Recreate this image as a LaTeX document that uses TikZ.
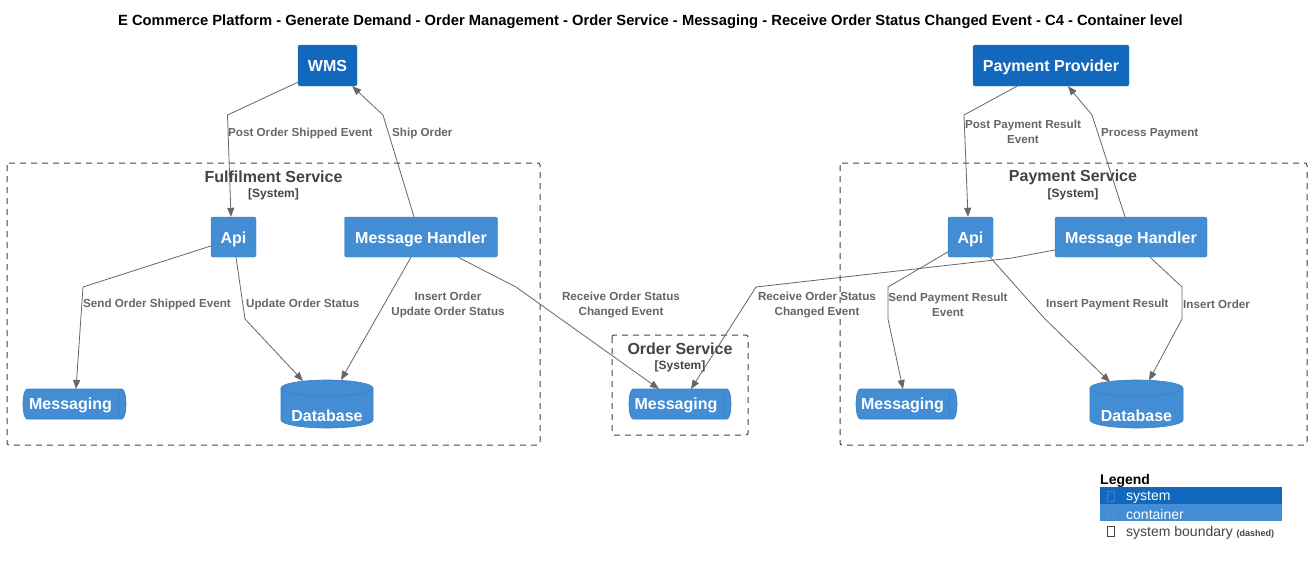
\documentclass[tikz,border=0pt]{standalone}
\usepackage{fontspec}
\setmainfont{Liberation Sans}
\usetikzlibrary{arrows.meta,calc}
\definecolor{sysblue}{HTML}{1168BD}
\definecolor{conblue}{HTML}{438DD5}
\definecolor{conborder}{HTML}{3C7FC0}
\definecolor{relgray}{HTML}{666666}
\definecolor{bndgray}{HTML}{444444}
\tikzset{
  sysbox/.style={fill=sysblue, draw=conborder, rounded corners=2pt, text=white,
    font=\fontsize{16}{19}\selectfont\bfseries, inner sep=0pt, text height=14pt, text depth=2pt},
  conbox/.style={fill=conblue, draw=conborder, rounded corners=2pt, text=white,
    font=\fontsize{16}{19}\selectfont\bfseries, inner sep=0pt, text height=14pt, text depth=1.5pt},
  holder/.style={inner sep=0pt, outer sep=0pt},
  ctext/.style={text=white, font=\fontsize{16}{19}\selectfont\bfseries, inner sep=0pt},
  bnd/.style={draw=bndgray, line width=1pt, dash pattern=on 6pt off 5pt, rounded corners=2pt},
  bndtitle/.style={text=bndgray, font=\fontsize{16}{19}\selectfont\bfseries, inner sep=0pt},
  bndsub/.style={text=bndgray, font=\fontsize{12}{14}\selectfont\bfseries, inner sep=0pt},
  rel/.style={draw=relgray, line width=0.8pt, -{Triangle[length=9pt,width=7pt]}},
  rellabel/.style={text=relgray, font=\fontsize{11.65}{15}\selectfont\bfseries, inner sep=0pt, align=center},
  legtext/.style={font=\fontsize{14}{16}\selectfont, inner sep=0pt, anchor=west},
}
\newcommand{\drawdb}[2]{%
  \draw[conborder, fill=conblue, line width=0.6pt] ($(#1.north west)+(0,8)$) arc[start angle=180, end angle=0, x radius=#2pt, y radius=8pt]
    -- ($(#1.south east)+(0,-8)$) arc[start angle=0, end angle=-180, x radius=#2pt, y radius=8pt] -- cycle;
  \draw[conborder, line width=0.6pt] ($(#1.north west)+(0,8)$) arc[start angle=180, end angle=360, x radius=#2pt, y radius=8pt];
}
\newcommand{\drawqueue}[2]{%
  \draw[conborder, fill=conblue, line width=0.6pt] ($(#1.north west)+(4,0)$) -- ($(#1.north east)+(-4,0)$)
    arc[start angle=90, end angle=-90, x radius=4pt, y radius=#2pt]
    -- ($(#1.south west)+(4,0)$) arc[start angle=270, end angle=90, x radius=4pt, y radius=#2pt] -- cycle;
  \draw[conborder, line width=0.6pt] ($(#1.north east)+(-4,0)$) arc[start angle=90, end angle=270, x radius=4pt, y radius=#2pt];
}
\begin{document}
\begin{tikzpicture}[x=1pt,y=-1pt]
\useasboundingbox[fill=white] (0,0) rectangle (1312,565);

% title
\node[font=\fontsize{14.75}{17}\selectfont\bfseries, inner sep=0pt] (title) at (650.5,21.5) {E Commerce Platform - Generate Demand - Order Management - Order Service - Messaging - Receive Order Status Changed Event - C4 - Container level};

% boundaries
\draw[bnd] (7,163) rectangle (540,445);
\node[bndtitle] (fbt) at (273.5,177) {Fulfilment Service};
\node[bndsub] (fbs) at (273.5,194) {[System]};
\draw[bnd] (612,335) rectangle (748,435);
\node[bndtitle] (obt) at (680,349) {Order Service};
\node[bndsub] (obs) at (680,366) {[System]};
\draw[bnd] (840,163) rectangle (1307,445);
\node[bndtitle] (pbt) at (1073,177) {Payment Service};
\node[bndsub] (pbs) at (1073,194) {[System]};

% systems
\node[sysbox, minimum width=59pt, minimum height=41pt] (wms) at (327.5,65.5) {WMS};
\node[sysbox, minimum width=156pt, minimum height=41pt] (pp) at (1051,65.5) {Payment Provider};

% containers
\node[conbox, minimum width=45pt, minimum height=40pt] (fapi) at (233.5,237) {Api};
\node[conbox, minimum width=153pt, minimum height=40pt] (fmh) at (421,237) {Message Handler};
\node[conbox, minimum width=45pt, minimum height=40pt] (papi) at (970.5,237) {Api};
\node[conbox, minimum width=152pt, minimum height=40pt] (pmh) at (1131,237) {Message Handler};

\node[holder, minimum width=103pt, minimum height=30pt] (fmsg) at (74.5,404) {};
\node[holder, minimum width=102pt, minimum height=30pt] (omsg) at (680,404) {};
\node[holder, minimum width=101pt, minimum height=30pt] (pmsg) at (906.5,404) {};
\node[holder, minimum width=92pt, minimum height=48pt] (fdb) at (327,404) {};
\node[holder, minimum width=93pt, minimum height=48pt] (pdb) at (1136.5,404) {};

\drawqueue{fmsg}{15}
\drawqueue{omsg}{15}
\drawqueue{pmsg}{15}
\drawdb{fdb}{46}
\drawdb{pdb}{46.5}
\node[ctext] at ($(fmsg)+(-4,1.5)$) {Messaging};
\node[ctext] at ($(omsg)+(-4,1.5)$) {Messaging};
\node[ctext] at ($(pmsg)+(-4,1.5)$) {Messaging};
\node[ctext] at ($(fdb)+(0,11.5)$) {Database};
\node[ctext] at ($(pdb)+(0,11.5)$) {Database};

% relations - fulfilment
\draw[rel] ($(wms.south west)+(0,-4)$) -- (227.5,115) -- ($(fapi.north)+(-2.5,0)$);
\node[rellabel, anchor=west] at (228,133.5) {Post Order Shipped Event};
\draw[rel] ($(fmh.north)+(-7,0)$) -- (383,115) -- ($(wms.south east)+(-5,0)$);
\node[rellabel, anchor=west] at (392,133.5) {Ship Order};
\draw[rel] ($(fapi.west)+(0,9)$) -- (83,287) -- ($(fmsg.north)+(1.5,0)$);
\node[rellabel, anchor=west] at (83,304.5) {Send Order Shipped Event};
\draw[rel] ($(fapi.south)+(2.5,0)$) -- (245,319) -- ($(fdb.center)+(-24,-23)$);
\node[rellabel, anchor=west] at (246,304.5) {Update Order Status};
\draw[rel] ($(fmh.south)+(-10,0)$) -- ($(fdb.center)+(14,-24)$);
\node[rellabel] at (448,305) {Insert Order\\Update Order Status};
\draw[rel] ($(fmh.south)+(37,0)$) -- (516,287) -- ($(omsg.north)+(-21,0)$);
\node[rellabel] at (621,305) {Receive Order Status\\Changed Event};

% relations - payment
\draw[rel] ($(pmh.west)+(0,13)$) -- (1012,258) -- (756,287) -- ($(omsg.north)+(11,0)$);
\node[rellabel] at (817,305) {Receive Order Status\\Changed Event};
\draw[rel] ($(pp.south)+(-34,0)$) -- (964,115) -- ($(papi.north)+(-2.5,0)$);
\node[rellabel] at (1023,132) {Post Payment Result\\Event};
\draw[rel] ($(pmh.north)+(-6,0)$) -- (1092,115) -- ($(pp.south)+(17,0)$);
\node[rellabel, anchor=west] at (1101,133.5) {Process Payment};
\draw[rel] ($(papi.west)+(0,15)$) -- (888,287) -- (888,319) -- ($(pmsg.north)+(-3.5,0)$);
\node[rellabel] at (948,305) {Send Payment Result\\Event};
\draw[rel] ($(papi.south)+(19.5,0)$) -- (1045,319) -- ($(pdb.center)+(-26.5,-22)$);
\node[rellabel, anchor=west] at (1046,304.5) {Insert Payment Result};
\draw[rel] ($(pmh.south)+(19,0)$) -- (1182,287) -- (1182,319) -- ($(pdb.center)+(12.5,-23.5)$);
\node[rellabel, anchor=west] at (1183,304.5) {Insert Order};

% legend
\node[font=\fontsize{14}{16}\selectfont\bfseries, inner sep=0pt, anchor=west] (legt) at (1100,480.5) {Legend};
\fill[sysblue] (1100,487) rectangle (1282,504);
\fill[conblue] (1100,504) rectangle (1282,521);
\draw[conblue!70!sysblue, line width=0.6pt] (1107,491) rectangle (1114,501);
\draw[conborder!85!white, line width=0.6pt] (1107,508) rectangle (1114,518);
\draw[bndgray, line width=0.6pt] (1107,526) rectangle (1114,536);
\node[legtext, text=white] (l1) at (1126,497.5) {system};
\node[legtext, text=white] (l2) at (1126,514.5) {container};
\node[legtext, text=bndgray] (l3) at (1126,532.5) {system boundary \fontsize{9}{10}\selectfont\bfseries (dashed)};
\end{tikzpicture}
\end{document}
